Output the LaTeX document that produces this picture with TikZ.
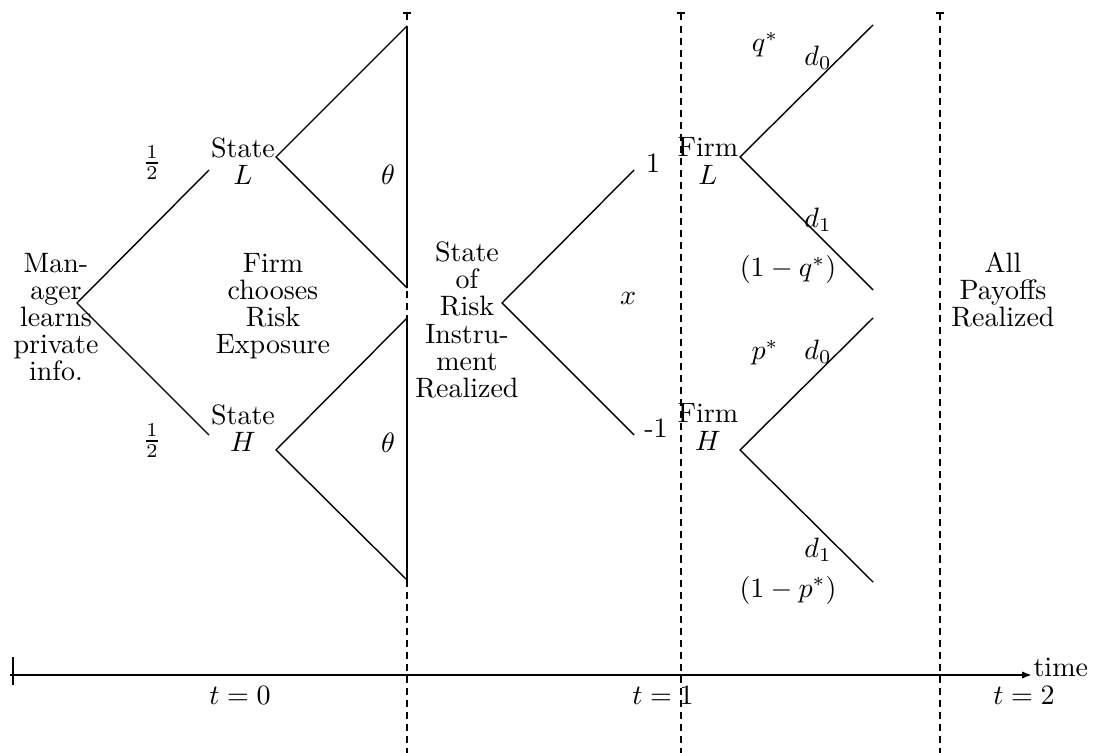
\documentclass[tikz,border=0pt]{standalone}
\usepackage{amsmath,amssymb}
\usepackage{tikz}
\usetikzlibrary{arrows.meta, calc}

\begin{document}
\begin{tikzpicture}[
        x=0.357pt, y=-0.357pt,
        every node/.style={inner sep=0pt, align=center, font=\fontsize{10}{9.7}\selectfont},
        branch/.style={line width=0.5pt},
        period/.style={line width=1pt, dash pattern=on 2.5pt off 1.8pt, {Bar[width=3pt,line width=0.7pt]}-},
        axis/.style={line width=0.9pt, -{Latex[length=3.5pt,width=2.6pt]}}
    ]
    \useasboundingbox (0,0) rectangle (1094,753);

    % time axis
    \coordinate (ax0) at (10,675);
    \coordinate (ax1) at (1032,675);
    \draw[axis] (ax0) -- (ax1);
    \draw[line width=0.5pt] ($(ax0)+(3,-18)$) -- ($(ax0)+(3,10)$);
    \node[anchor=base west] (time) at (1033,676) {time};
    \node (t0) at (240,695) {$t=0$};
    \node (t1) at (663,695) {$t=1$};
    \node (t2) at (1024,695) {$t=2$};

    % periods
    \foreach \x/\n in {407/pa, 681/pb, 940/pc} {
        \coordinate (\n top) at (\x,12);
        \coordinate (\n bot) at (\x,753);
        \draw[period] (\n top) -- (\n bot);
    }

    % manager
    \coordinate (root) at (77,303);
    \coordinate (halfL) at (209,170);
    \coordinate (halfH) at (209,435);
    \draw[branch] (halfL) -- (root) -- (halfH);
    \node (manager) at (56,317) {Man-\\ager\\learns\\private\\info.};
    \node (probL) at (152,163) {$\frac{1}{2}$};
    \node (probH) at (152,441) {$\frac{1}{2}$};

    % risk exposure
    \coordinate (sL) at (276,157);
    \coordinate (sH) at (276,450);
    \coordinate (eL0) at (407,26);
    \coordinate (eL1) at (407,288);
    \coordinate (eH0) at (407,318);
    \coordinate (eH1) at (407,580);
    \draw[branch] (eL0) -- (sL) -- (eL1);
    \draw[branch] (eH0) -- (sH) -- (eH1);
    \draw[line width=1pt] (eL0) -- (eL1);
    \draw[line width=1pt] (eH0) -- (eH1);
    \node (stateL) at (243,161) {State\\$L$};
    \node (stateH) at (243,428) {State\\$H$};
    \node (choose) at (273,306) {Firm\\chooses\\Risk\\Exposure};
    \node (thetaL) at (388,175) {$\theta$};
    \node (thetaH) at (388,443) {$\theta$};

    % risk instrument
    \coordinate (instr) at (502,303);
    \coordinate (up) at (634,170);
    \coordinate (down) at (634,435);
    \draw[branch] (up) -- (instr) -- (down);
    \node (instrument) at (467,320) {State\\of\\Risk\\Instru-\\ment\\Realized};
    \node (plus) at (653,163) {1};
    \node (minus) at (656,428) {-1};
    \node (xval) at (628,298) {$x$};

    % firm payoffs
    \coordinate (fL) at (740,157);
    \coordinate (fH) at (740,450);
    \coordinate (gL0) at (873,25);
    \coordinate (gL1) at (873,290);
    \coordinate (gH0) at (873,318);
    \coordinate (gH1) at (873,582);
    \draw[branch] (gL0) -- (fL) -- (gL1);
    \draw[branch] (gH0) -- (fH) -- (gH1);
    \node (firmL) at (708,161) {Firm\\$L$};
    \node (firmH) at (708,427) {Firm\\$H$};
    \node (qs) at (765,45) {$q^*$};
    \node (dL0) at (818,58) {$d_0$};
    \node (dL1) at (818,220) {$d_1$};
    \node (qc) at (788,270) {$(1-q^*)$};
    \node (ps) at (765,353) {$p^*$};
    \node (dH0) at (818,352) {$d_0$};
    \node (dH1) at (818,550) {$d_1$};
    \node (pc) at (788,590) {$(1-p^*)$};
    \node (payoffs) at (1003,290) {All\\Payoffs\\Realized};
\end{tikzpicture}
\end{document}
